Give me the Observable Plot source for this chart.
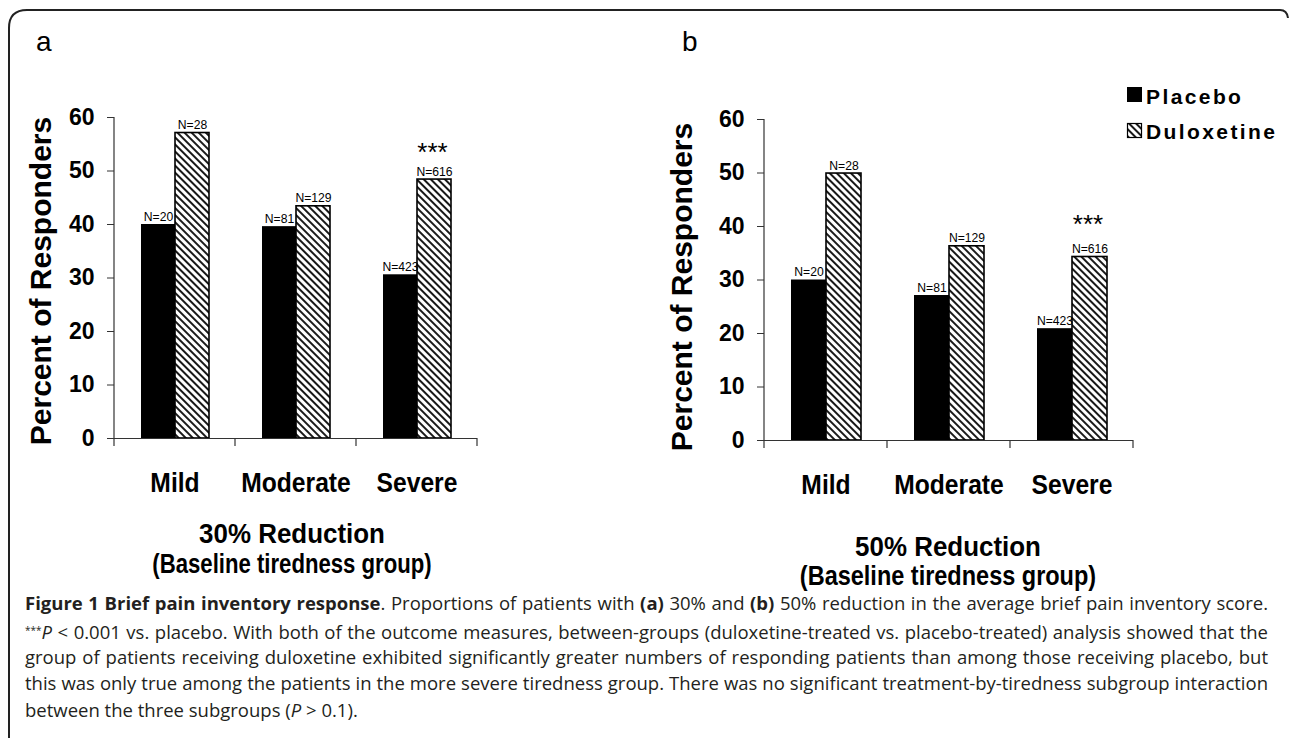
<!DOCTYPE html>
<html><head><meta charset="utf-8">
<script src="https://cdn.jsdelivr.net/npm/d3@7"></script>
<script src="https://cdn.jsdelivr.net/npm/@observablehq/plot@0.6"></script>
<style>
html,body{margin:0;padding:0;background:#fff;}
#root{position:relative;width:1290px;height:738px;overflow:hidden;background:#fff;}
.panel{position:absolute;top:0;}
#overlay{position:absolute;left:0;top:0;pointer-events:none;}
.caption{position:absolute;left:25px;top:590px;width:1243px;font-family:"Open Sans",Lato,"Noto Sans",sans-serif;font-size:17px;line-height:26.8px;color:#231f20;}
.caption .ln{white-space:nowrap;height:26.8px;}
.caption .ln span.t{display:inline-block;}
.caption sup{font-size:10px;vertical-align:5px;}
</style></head>
<body><div id="root">
<div id="panelA" class="panel" style="left:0px"></div>
<div id="panelB" class="panel" style="left:640px"></div>
<div class="caption">
<div class="ln"><span class="t"><b>Figure 1 Brief pain inventory response</b>. Proportions of patients with <b>(a)</b> 30% and <b>(b)</b> 50% reduction in the average brief pain inventory score.</span></div>
<div class="ln"><span class="t"><sup>***</sup><i>P</i> &lt; 0.001 vs. placebo. With both of the outcome measures, between-groups (duloxetine-treated vs. placebo-treated) analysis showed that the</span></div>
<div class="ln"><span class="t">group of patients receiving duloxetine exhibited significantly greater numbers of responding patients than among those receiving placebo, but</span></div>
<div class="ln"><span class="t">this was only true among the patients in the more severe tiredness group. There was no significant treatment-by-tiredness subgroup interaction</span></div>
<div class="ln last"><span class="t">between the three subgroups (<i>P</i> &gt; 0.1).</span></div>
</div>
<svg id="overlay" width="1290" height="738"></svg>
</div>
<script>
// ---- data ----
const categories = ["Mild", "Moderate", "Severe"];
const series = ["Placebo", "Duloxetine"];
const placebo30 = [40.0, 39.6, 30.6];
const duloxetine30 = [57.1, 43.4, 48.4];
const placebo50 = [30.0, 27.1, 20.9];
const duloxetine50 = [49.9, 36.3, 34.3];
const nPlacebo = [20, 81, 423];
const nDuloxetine = [28, 129, 616];
const significance = ["", "", "***"];
const yTicks = [0, 10, 20, 30, 40, 50, 60];
const panelLetters = ["a", "b"];
const panelTitles = [["30% Reduction", "(Baseline tiredness group)"], ["50% Reduction", "(Baseline tiredness group)"]];
const yLabel = "Percent of Responders";

const SANS = "'Liberation Sans', Arial, Helvetica, sans-serif";

function rowsFor(placebo, dulox) {
  return categories.flatMap((c, i) => [
    {category: c, series: "Placebo", value: placebo[i], n: nPlacebo[i], sig: ""},
    {category: c, series: "Duloxetine", value: dulox[i], n: nDuloxetine[i], sig: significance[i]}
  ]);
}

function addHatch(svg, id) {
  const defs = d3.select(svg).insert("defs", ":first-child");
  const p = defs.append("pattern").attr("id", id).attr("patternUnits", "userSpaceOnUse")
    .attr("width", 5).attr("height", 5).attr("patternTransform", "rotate(-45)");
  p.append("rect").attr("width", 5).attr("height", 5).attr("fill", "white");
  p.append("line").attr("x1", 1).attr("y1", 0).attr("x2", 1).attr("y2", 5)
    .attr("stroke", "black").attr("stroke-width", 1.8);
}

// horizontally condense svg text (the original uses a narrow face)
function condense(sel, factor) {
  sel.each(function () {
    const w = this.getComputedTextLength();
    this.setAttribute("textLength", w * factor);
    this.setAttribute("lengthAdjust", "spacingAndGlyphs");
  });
}

function makePanel(el, rows, m, hatchId) {
  const plot = Plot.plot({
    width: 640, height: 600,
    marginLeft: m.left, marginRight: m.right, marginTop: m.top, marginBottom: m.bottom,
    style: {fontFamily: SANS, background: "transparent", overflow: "visible", color: "black"},
    fx: {domain: categories, padding: 0, label: null},
    x: {domain: series, paddingInner: 0, paddingOuter: 0.743, axis: null},
    y: {domain: [0, 60], axis: null},
    marks: [
      Plot.axisY(yTicks, {tickSize: 7, tickPadding: 13, fontSize: 23, fontWeight: "bold", label: null, stroke: "#333"}),
      Plot.axisFx({anchor: "bottom", tickSize: 0, tickPadding: 34, fontSize: 28, fontWeight: "bold", label: null}),
      Plot.barY(rows.filter(d => d.series === "Placebo"), {fx: "category", x: "series", y: "value", fill: "black"}),
      Plot.barY(rows.filter(d => d.series === "Duloxetine"), {fx: "category", x: "series", y: "value", fill: `url(#${hatchId})`, stroke: "black", strokeWidth: 1.6}),
      Plot.ruleY([0], {stroke: "#333", strokeWidth: 1.2}),
      Plot.text(rows, {fx: "category", x: "series", y: "value", text: d => "N=" + d.n, lineAnchor: "bottom", dy: -4, fontSize: 13.5}),
      Plot.text(rows.filter(d => d.sig), {fx: "category", x: "series", y: "value", text: "sig", lineAnchor: "bottom", dy: m.starDy, dx: -2, fontSize: 26}),
      Plot.text([yLabel], {fx: [categories[0]], frameAnchor: "left", textAnchor: "middle", rotate: -90, dx: m.labelDx, dy: m.labelDy, fontSize: 30, fontWeight: "bold"})
    ]
  });
  addHatch(plot, hatchId);
  el.appendChild(plot);
  // Excel-style axis line and category separator ticks from the library's own scales
  const fx = plot.scale("fx"), y = plot.scale("y");
  const g = d3.select(plot).append("g").attr("stroke", "#333").attr("stroke-width", 1.2);
  const x0 = fx.apply(categories[0]);
  g.append("line").attr("x1", x0).attr("x2", x0).attr("y1", y.apply(60)).attr("y2", y.apply(0));
  const edges = categories.map(c => fx.apply(c)).concat([fx.apply(categories[categories.length - 1]) + fx.bandwidth]);
  edges.forEach(e => g.append("line").attr("x1", e).attr("x2", e).attr("y1", y.apply(0)).attr("y2", y.apply(0) + 8));
  const texts = d3.select(plot).selectAll("text");
  condense(texts.filter(function () { return categories.includes(this.textContent); }), 0.88);
  condense(texts.filter(function () { return this.textContent.startsWith("N="); }), 0.9);
}

makePanel(document.getElementById("panelA"), rowsFor(placebo30, duloxetine30),
  {left: 113, right: 162, top: 117, bottom: 162, labelDx: -73, labelDy: 3, starDy: -19}, "hatchA");
makePanel(document.getElementById("panelB"), rowsFor(placebo50, duloxetine50),
  {left: 123, right: 147, top: 119, bottom: 160, labelDx: -82, labelDy: 7, starDy: -24}, "hatchB");

// ---- overlay: frame, panel letters, titles, legend ----
const ov = d3.select("#overlay");
addHatch(ov.node(), "hatchL");
ov.append("path").attr("d", "M9,738 L9,28 Q9,10 27,10 L1280,10 Q1287,10 1288,18")
  .attr("fill", "none").attr("stroke", "#222").attr("stroke-width", 2);
const letterPos = [[36, 51], [682, 51]];
panelLetters.forEach((t, i) => ov.append("text").attr("x", letterPos[i][0]).attr("y", letterPos[i][1])
  .attr("font-family", SANS).attr("font-size", 28).text(t));
const titlePos = [[292, 543, 573], [948, 556, 585]];
const titleSquash = [[0.96, 0.82], [0.96, 0.87]];
panelTitles.forEach((lines, i) => {
  lines.forEach((t, j) => {
    const el = ov.append("text").attr("x", titlePos[i][0]).attr("y", titlePos[i][1 + j])
      .attr("text-anchor", "middle").attr("font-family", SANS).attr("font-weight", "bold").attr("font-size", 27).text(t);
    condense(el, titleSquash[i][j]);
  });
});
const legend = ov.append("g");
legend.append("rect").attr("x", 1127).attr("y", 87).attr("width", 15).attr("height", 15).attr("fill", "black");
legend.append("rect").attr("x", 1127.5).attr("y", 123.5).attr("width", 14).attr("height", 14).attr("fill", "url(#hatchL)").attr("stroke", "black").attr("stroke-width", 1.2);
series.forEach((s, i) => legend.append("text").attr("x", 1146).attr("y", 104 + i * 35)
  .attr("font-family", SANS).attr("font-weight", "bold").attr("font-size", 21).attr("letter-spacing", 2.4).text(s));

// ---- caption: size the face to the reference line length, then justify lines 1-4 ----
const lines = Array.from(document.querySelectorAll(".caption .ln .t"));
const cap = document.querySelector(".caption");
const lastW = lines[4].getBoundingClientRect().width;
cap.style.fontSize = (17 * 333 / lastW).toFixed(2) + "px";
const fullW = 1243;
lines.slice(0, 4).forEach(sp => {
  const w = sp.getBoundingClientRect().width;
  const spaces = (sp.textContent.match(/ /g) || []).length;
  sp.style.wordSpacing = ((fullW - w) / spaces).toFixed(3) + "px";
});
</script>
</body></html>
